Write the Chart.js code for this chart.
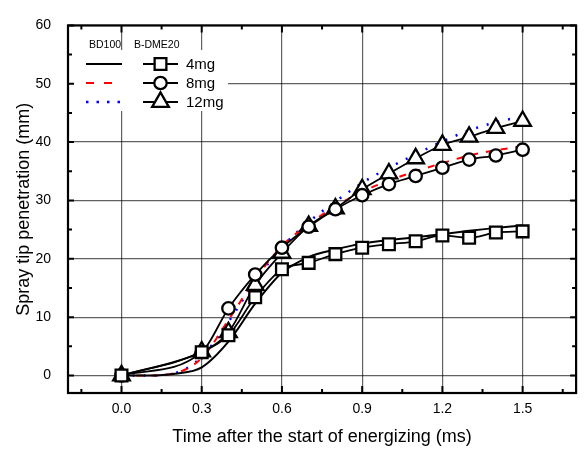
<!DOCTYPE html>
<html>
<head>
<meta charset="utf-8">
<script src="https://cdn.jsdelivr.net/npm/chart.js@4/dist/chart.umd.min.js"></script>
<style>
  html, body { margin: 0; padding: 0; background: #fff; }
  #wrap { width: 588px; height: 450px; position: relative; }
</style>
</head>
<body>
<div id="wrap"><canvas id="c" width="588" height="450"></canvas></div>
<script>
// ---- data ----
const timeBD = [0, 0.1, 0.2, 0.3, 0.4, 0.5, 0.6, 0.7, 0.8, 0.9, 1.0, 1.1, 1.2, 1.3, 1.4, 1.5];
const bd100_4mg  = [0, 0.0, 0.3, 1.4, 5.8, 12.3, 17.6, 20.3, 21.6, 22.6, 23.2, 23.7, 24.2, 24.8, 25.3, 25.7];
const bd100_8mg  = [0, 0.0, 0.4, 3.0, 9.5, 16.5, 22.2, 25.9, 29.0, 31.5, 33.4, 35.0, 36.4, 37.7, 38.6, 39.3];
const bd100_12mg = [0, 0.0, 0.4, 3.2, 9.2, 16.2, 22.0, 26.3, 29.8, 33.0, 35.6, 37.9, 40.1, 42.0, 43.4, 44.4];

const timeDME = [0, 0.3, 0.4, 0.5, 0.6, 0.7, 0.8, 0.9, 1.0, 1.1, 1.2, 1.3, 1.4, 1.5];
const dme20_4mg  = [0, 4.0, 6.9, 13.4, 18.2, 19.3, 20.8, 21.9, 22.5, 23.0, 24.0, 23.6, 24.5, 24.7];
const dme20_8mg  = [0, 4.0, 11.5, 17.3, 21.9, 25.5, 28.5, 30.9, 32.8, 34.2, 35.6, 37.0, 37.7, 38.7];
const dme20_12mg = [0, 4.1, 7.4, 15.5, 21.0, 25.6, 28.6, 31.9, 34.6, 37.2, 39.5, 40.9, 42.4, 43.6];

const xTickValues = [0, 0.3, 0.6, 0.9, 1.2, 1.5];
const xMinorValues = [-0.15, 0.15, 0.45, 0.75, 1.05, 1.35, 1.65];
const yTickValues = [0, 10, 20, 30, 40, 50, 60];
const yMinorValues = [5, 15, 25, 35, 45, 55];

const loadLabels = ['4mg', '8mg', '12mg'];
const fuelLabels = ['BD100', 'B-DME20'];
const xTitle = 'Time after the start of energizing (ms)';
const yTitle = 'Spray tip penetration (mm)';

const pts = (xs, ys) => xs.map((x, i) => ({ x: x, y: ys[i] }));
const FONT = '"Liberation Sans", Arial, sans-serif';

const bdStyles = [
  { color: '#000000', dash: [], width: 2 },
  { color: '#ff0000', dash: [7, 8], width: 2 },
  { color: '#0000ff', dash: [2, 9], width: 2.5 }
];
const dmeMarkers = [
  { style: 'rect', radius: 8.3 },
  { style: 'circle', radius: 6.2 },
  { style: 'triangle', radius: 9.6 }
];

const bdSeries = [bd100_4mg, bd100_8mg, bd100_12mg];
const dmeSeries = [dme20_4mg, dme20_8mg, dme20_12mg];

const datasets = [];
dmeSeries.forEach((s, i) => {
  datasets.push({
    label: fuelLabels[1] + ' ' + loadLabels[i],
    data: pts(timeDME, s),
    borderColor: '#000',
    borderWidth: 1.8,
    backgroundColor: '#fff',
    pointStyle: dmeMarkers[i].style,
    pointRadius: dmeMarkers[i].radius,
    pointBorderWidth: 2.3,
    pointBorderColor: '#000',
    pointBackgroundColor: '#fff',
    cubicInterpolationMode: 'monotone',
    fill: false,
    order: 1
  });
});
bdSeries.forEach((s, i) => {
  datasets.push({
    label: fuelLabels[0] + ' ' + loadLabels[i],
    data: pts(timeBD, s),
    borderColor: bdStyles[i].color,
    borderDash: bdStyles[i].dash,
    borderWidth: bdStyles[i].width,
    pointRadius: 0,
    cubicInterpolationMode: 'monotone',
    fill: false,
    order: 2
  });
});

const framePlugin = {
  id: 'frame',
  afterDatasetsDraw(chart) {
    const ctx = chart.ctx;
    const a = chart.chartArea;
    const xs = chart.scales.x, ys = chart.scales.y;
    ctx.save();
    // legend box
    ctx.fillStyle = '#fff';
    ctx.fillRect(70, 50, 158, 61);
    ctx.fillStyle = '#000';
    ctx.font = '10.5px ' + FONT;
    ctx.textBaseline = 'middle';
    ctx.textAlign = 'left';
    ctx.fillText(fuelLabels[0], 89, 45);
    ctx.fillText(fuelLabels[1], 134, 45);
    const rowsY = [64, 83, 102];
    for (let i = 0; i < 3; i++) {
      const y = rowsY[i];
      ctx.strokeStyle = bdStyles[i].color;
      ctx.lineWidth = bdStyles[i].width;
      ctx.setLineDash(bdStyles[i].dash.length ? (i === 1 ? [8, 10] : [2.5, 8]) : []);
      ctx.beginPath(); ctx.moveTo(86, y); ctx.lineTo(122, y); ctx.stroke();
      ctx.setLineDash([]);
      ctx.strokeStyle = '#000';
      ctx.lineWidth = 1.8;
      ctx.beginPath(); ctx.moveTo(143, y); ctx.lineTo(178, y); ctx.stroke();
      ctx.fillStyle = '#fff';
      ctx.strokeStyle = '#000';
      ctx.lineWidth = 2.3;
      Chart.helpers.drawPoint(ctx, { pointStyle: dmeMarkers[i].style, radius: dmeMarkers[i].radius, borderWidth: 2.3, rotation: 0 }, 160.5, y);
      ctx.fillStyle = '#000';
      ctx.font = '15px ' + FONT;
      ctx.fillText(loadLabels[i], 186, y + 0.5);
    }
    // frame
    ctx.strokeStyle = '#000';
    ctx.lineWidth = 2.2;
    ctx.strokeRect(a.left, a.top, a.right - a.left, a.bottom - a.top);
    // inward ticks
    ctx.lineWidth = 2;
    const tickX = (v, len) => {
      const px = xs.getPixelForValue(v);
      ctx.beginPath();
      ctx.moveTo(px, a.bottom); ctx.lineTo(px, a.bottom - len);
      ctx.moveTo(px, a.top); ctx.lineTo(px, a.top + len);
      ctx.stroke();
    };
    const tickY = (v, len) => {
      const py = ys.getPixelForValue(v);
      ctx.beginPath();
      ctx.moveTo(a.left, py); ctx.lineTo(a.left + len, py);
      ctx.moveTo(a.right, py); ctx.lineTo(a.right - len, py);
      ctx.stroke();
    };
    xTickValues.forEach(v => tickX(v, 7));
    xMinorValues.forEach(v => tickX(v, 4));
    yTickValues.forEach(v => tickY(v, 6));
    yMinorValues.forEach(v => tickY(v, 4));
    ctx.restore();
  }
};

new Chart(document.getElementById('c'), {
  type: 'line',
  data: { datasets: datasets },
  options: {
    responsive: false,
    animation: false,
    devicePixelRatio: 1,
    layout: { padding: { top: 14, right: 8, left: 0, bottom: 0 } },
    plugins: { legend: { display: false }, tooltip: { enabled: false } },
    scales: {
      x: {
        type: 'linear',
        min: -0.2, max: 1.7,
        afterBuildTicks: s => { s.ticks = xTickValues.map(v => ({ value: v })); },
        afterFit: s => { s.height = 57; },
        ticks: {
          callback: v => Number(v).toFixed(1),
          font: { family: FONT, size: 14 },
          color: '#000',
          padding: 8,
          maxRotation: 0
        },
        grid: { color: 'rgba(0,0,0,0.62)', lineWidth: 1.2, drawTicks: false },
        border: { display: false },
        title: {
          display: true, text: xTitle, color: '#000',
          font: { family: FONT, size: 18 },
          padding: { top: 0, bottom: 2 }
        }
      },
      y: {
        type: 'linear',
        min: -3, max: 60,
        afterBuildTicks: s => { s.ticks = yTickValues.map(v => ({ value: v })); },
        afterFit: s => { s.width = 68; },
        ticks: {
          font: { family: FONT, size: 14 },
          color: '#000',
          padding: 17
        },
        grid: { color: 'rgba(0,0,0,0.62)', lineWidth: 1.2, drawTicks: false },
        border: { display: false },
        title: {
          display: true, text: yTitle, color: '#000',
          font: { family: FONT, size: 18 },
          padding: { top: 13, bottom: 0 }
        }
      }
    }
  },
  plugins: [framePlugin]
});
</script>
</body>
</html>
